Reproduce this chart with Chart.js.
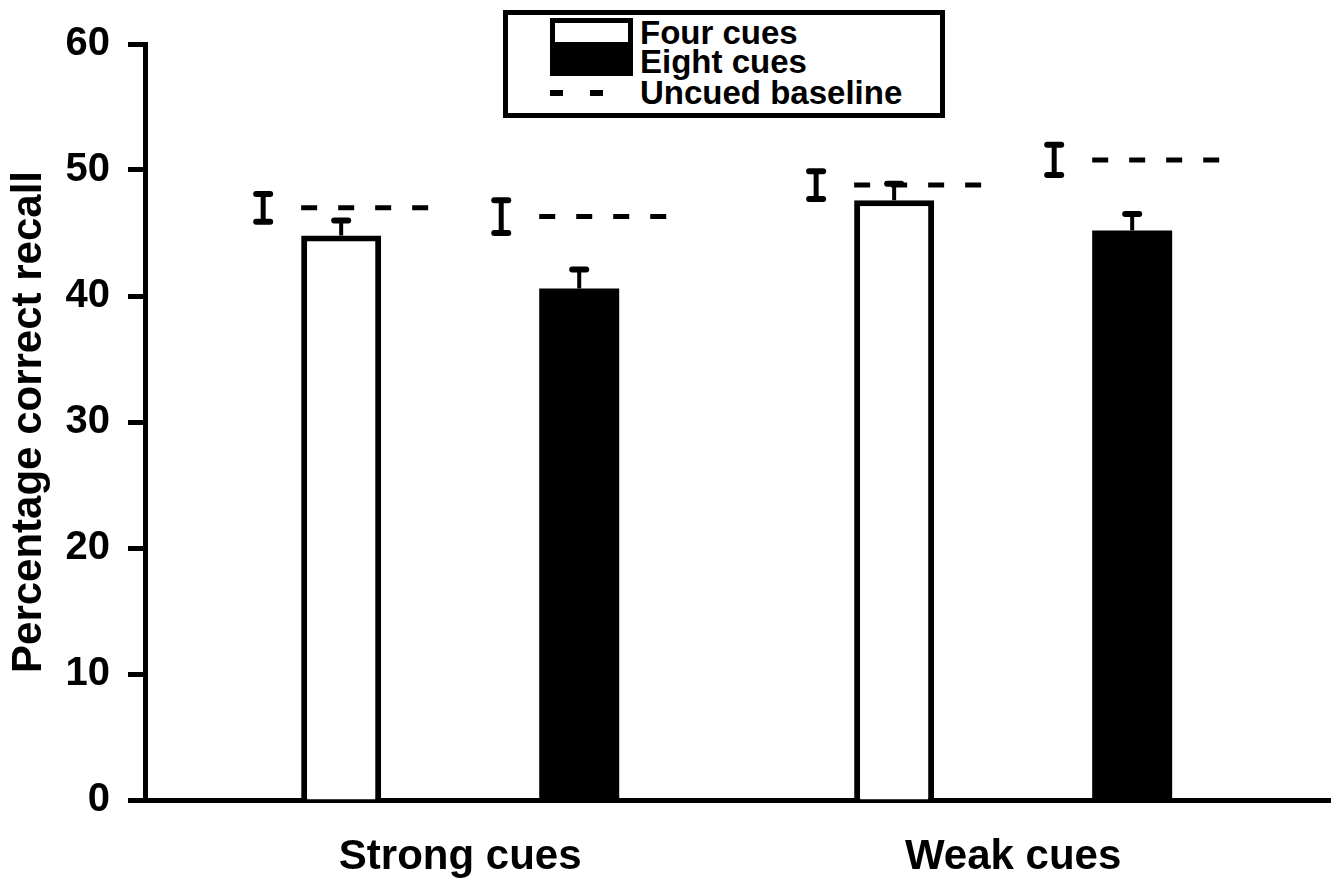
<!DOCTYPE html>
<html>
<head>
<meta charset="utf-8">
<script src="https://cdn.jsdelivr.net/npm/chart.js@4.4.1/dist/chart.umd.min.js"></script>
<style>
  body { margin: 0; background: #fff; }
  #wrap { position: relative; width: 1339px; height: 880px; }
  #legend {
    position: absolute; left: 503px; top: 10px; width: 442px; height: 108px;
    box-sizing: border-box; border: 5px solid #000; background: #fff;
    font: bold 33px "Liberation Sans", Arial, sans-serif; color: #000;
  }
  #legend .row { position: absolute; left: 42px; height: 29px; display: flex; align-items: center; }
  #legend .sym { width: 83px; height: 29px; box-sizing: border-box; margin-right: 7px; }
  #legend .txt { line-height: 29px; white-space: nowrap; }
</style>
</head>
<body>
<div id="wrap">
  <canvas id="chart"></canvas>
  <div id="legend"></div>
</div>
<script>
// Recall data
const categories = ['Strong cues', 'Weak cues'];
const fourCues = [44.8, 47.6];
const eightCues = [40.6, 45.2];
const fourErr = [1.2, 1.3];
const eightErr = [1.5, 1.3];
const fourBaseline = [47.0, 48.8];
const eightBaseline = [46.3, 50.8];
const fourBaselineErr = [1.1, 1.1];
const eightBaselineErr = [1.3, 1.2];
const yMax = 60;
const yStep = 10;

const seriesErr = [fourErr, eightErr];
const baselines = [fourBaseline, eightBaseline];
const baselineErr = [fourBaselineErr, eightBaselineErr];

const font = '"Liberation Sans", Arial, sans-serif';
Chart.defaults.color = '#000';
Chart.defaults.font.family = font;

function cap(ctx, x, y, w) {
    ctx.beginPath();
    ctx.moveTo(x - w / 2, y);
    ctx.lineTo(x + w / 2, y);
    ctx.stroke();
}

// error bars and uncued baselines, positioned from the bars and the y scale
const extras = {
    id: 'extras',
    afterDatasetsDraw(chart) {
        const ctx = chart.ctx;
        const y = chart.scales.y;
        ctx.save();
        ctx.strokeStyle = '#000';
        chart.data.datasets.forEach((ds, d) => {
            const meta = chart.getDatasetMeta(d);
            meta.data.forEach((bar, i) => {
                const v = ds.data[i].y;
                // upper error bar on the bar
                const yTop = y.getPixelForValue(v + seriesErr[d][i]);
                ctx.lineCap = 'butt';
                ctx.lineWidth = 4;
                ctx.beginPath();
                ctx.moveTo(bar.x, bar.y);
                ctx.lineTo(bar.x, yTop);
                ctx.stroke();
                ctx.lineCap = 'round';
                ctx.lineWidth = 6;
                cap(ctx, bar.x, yTop, 14);

                // baseline dashed line
                const left = bar.x - bar.width / 2;
                const yb = y.getPixelForValue(baselines[d][i]);
                ctx.lineCap = 'butt';
                ctx.lineWidth = 5;
                ctx.setLineDash([16, 21]);
                ctx.beginPath();
                ctx.moveTo(left, yb);
                ctx.lineTo(left + 127, yb);
                ctx.stroke();
                ctx.setLineDash([]);

                // baseline error bar
                const ex = left - 38;
                const y1 = y.getPixelForValue(baselines[d][i] + baselineErr[d][i]);
                const y2 = y.getPixelForValue(baselines[d][i] - baselineErr[d][i]);
                ctx.lineWidth = 5;
                ctx.beginPath();
                ctx.moveTo(ex, y1);
                ctx.lineTo(ex, y2);
                ctx.stroke();
                ctx.lineCap = 'round';
                ctx.lineWidth = 6;
                cap(ctx, ex, y1, 14);
                cap(ctx, ex, y2, 14);
            });
        });
        ctx.restore();
    }
};

const ctx = document.getElementById('chart').getContext('2d');
const chart = new Chart(ctx, {
    type: 'bar',
    data: {
        datasets: [{
            label: 'Four cues',
            data: categories.map((c, i) => ({ x: i, y: fourCues[i] })),
            backgroundColor: '#fff',
            borderColor: '#000',
            borderWidth: 6,
            borderSkipped: 'start'
        }, {
            label: 'Eight cues',
            data: categories.map((c, i) => ({ x: i, y: eightCues[i] })),
            backgroundColor: '#000',
            borderColor: '#000',
            borderWidth: 0
        }]
    },
    options: {
        responsive: true,
        maintainAspectRatio: false,
        animation: false,
        categoryPercentage: 0.861,
        barPercentage: 0.336,
        layout: { padding: { top: 44, right: 9, left: 0, bottom: 0 } },
        plugins: {
            legend: { display: false },
            tooltip: { enabled: false }
        },
        scales: {
            x: {
                type: 'linear',
                offset: false,
                min: -0.57,
                max: 1.573,
                afterBuildTicks: (scale) => {
                    scale.ticks = categories.map((c, i) => ({ value: i }));
                },
                afterFit: (scale) => { scale.height = 80; },
                grid: { display: false, offset: false },
                border: { display: true, color: '#000', width: 5 },
                ticks: {
                    autoSkip: false,
                    maxRotation: 0,
                    padding: 24,
                    font: { size: 42, weight: 'bold', lineHeight: 1.2 },
                    callback: (v) => categories[v]
                }
            },
            y: {
                min: 0,
                max: yMax,
                afterFit: (scale) => { scale.width = 145; },
                grid: {
                    drawOnChartArea: false,
                    drawTicks: true,
                    tickLength: 17,
                    tickWidth: 5,
                    tickColor: '#000'
                },
                border: { display: true, color: '#000', width: 5 },
                ticks: {
                    stepSize: yStep,
                    padding: 18,
                    font: { size: 40, weight: 'bold', lineHeight: 1.2 }
                },
                title: {
                    display: true,
                    text: 'Percentage correct recall',
                    padding: { top: 4, bottom: 0 },
                    font: { size: 42, weight: 'bold', lineHeight: 1.2 }
                }
            }
        }
    },
    plugins: [extras]
});

// legend box drawn as html over the plot
const legend = document.getElementById('legend');
const items = [
    { text: chart.data.datasets[0].label, style: 'border:5px solid #000;background:#fff;' },
    { text: chart.data.datasets[1].label, style: 'background:#000;' },
    { text: 'Uncued baseline', style: 'background:linear-gradient(#000,#000) 0 50%/13px 6px no-repeat, linear-gradient(#000,#000) 40px 50%/13px 6px no-repeat;' }
];
items.forEach((it, k) => {
    const row = document.createElement('div');
    row.className = 'row';
    row.style.top = (3 + k * 29 + (k === 2 ? 2 : 0)) + 'px';
    const sym = document.createElement('div');
    sym.className = 'sym';
    sym.style.cssText = it.style;
    const txt = document.createElement('div');
    txt.className = 'txt';
    txt.textContent = it.text;
    row.appendChild(sym);
    row.appendChild(txt);
    legend.appendChild(row);
});
</script>
</body>
</html>
